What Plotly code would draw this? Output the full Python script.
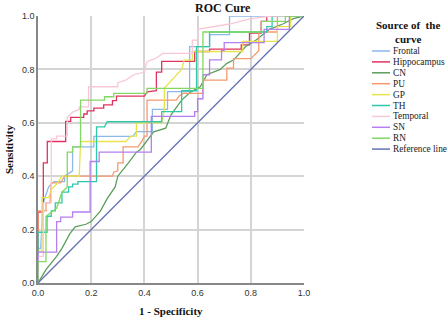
import plotly.graph_objects as go

# ROC curve points (1 - specificity, sensitivity)
frontal_x = [0, 0, 0.01, 0.02, 0.04, 0.06, 0.10, 0.10, 0.13, 0.13, 0.21, 0.21, 0.357, 0.37, 0.43, 0.43, 0.487, 0.487, 0.57, 0.57, 0.645, 0.645, 0.72, 0.72, 1]
frontal_y = [0, 0.13, 0.13, 0.30, 0.36, 0.38, 0.38, 0.40, 0.42, 0.51, 0.51, 0.549, 0.549, 0.567, 0.567, 0.65, 0.65, 0.717, 0.717, 0.885, 0.885, 0.93, 0.93, 1.0, 1]

hippo_x = [0, 0, 0.02, 0.02, 0.035, 0.035, 0.104, 0.104, 0.123, 0.123, 0.172, 0.172, 0.185, 0.185, 0.21, 0.21, 0.247, 0.247, 0.28, 0.28, 0.295, 0.295, 0.40, 0.41, 0.445, 0.445, 0.465, 0.465, 0.589, 0.589, 0.645, 0.645, 0.764, 0.764, 0.795, 0.795, 0.839, 0.839, 0.86, 0.86, 1]
hippo_y = [0, 0.266, 0.266, 0.45, 0.45, 0.53, 0.53, 0.605, 0.605, 0.62, 0.62, 0.633, 0.633, 0.645, 0.645, 0.655, 0.655, 0.667, 0.667, 0.683, 0.683, 0.70, 0.70, 0.716, 0.72, 0.79, 0.79, 0.83, 0.83, 0.867, 0.867, 0.876, 0.876, 0.892, 0.892, 0.936, 0.936, 0.98, 0.98, 1.0, 1]

cn_x = [0, 0.03, 0.07, 0.09, 0.12, 0.14, 0.18, 0.2, 0.235, 0.26, 0.29, 0.30, 0.34, 0.37, 0.385, 0.41, 0.435, 0.48, 0.50, 0.54, 0.575, 0.61, 0.635, 0.685, 0.71, 0.735, 0.78, 0.82, 0.87, 0.92, 0.96, 1]
cn_y = [0, 0.05, 0.10, 0.13, 0.185, 0.21, 0.22, 0.23, 0.27, 0.316, 0.36, 0.40, 0.45, 0.49, 0.50, 0.535, 0.566, 0.58, 0.63, 0.685, 0.716, 0.735, 0.78, 0.80, 0.8225, 0.835, 0.885, 0.91, 0.95, 0.97, 0.99, 1]

pu_x = [0, 0, 0.03, 0.03, 0.045, 0.05, 0.085, 0.10, 0.28, 0.285, 0.30, 0.30, 0.32, 0.32, 0.376, 0.39, 0.40, 0.41, 0.41, 0.52, 0.53, 0.545, 0.62, 0.62, 0.71, 0.71, 0.735, 0.735, 0.80, 0.83, 0.83, 0.90, 0.90, 1]
pu_y = [0, 0.27, 0.27, 0.30, 0.30, 0.375, 0.375, 0.40, 0.40, 0.416, 0.42, 0.45, 0.45, 0.51, 0.51, 0.53, 0.55, 0.55, 0.685, 0.685, 0.70, 0.71, 0.71, 0.76, 0.76, 0.805, 0.805, 0.84, 0.84, 0.87, 0.94, 0.94, 1.0, 1]

gp_x = [0, 0, 0.015, 0.015, 0.04, 0.05, 0.07, 0.09, 0.155, 0.16, 0.33, 0.35, 0.37, 0.37, 0.465, 0.475, 0.475, 0.54, 0.55, 0.58, 0.58, 0.77, 0.77, 0.90, 0.90, 0.95, 0.95, 1]
gp_y = [0, 0.12, 0.12, 0.32, 0.32, 0.35, 0.37, 0.40, 0.40, 0.53, 0.53, 0.55, 0.55, 0.60, 0.60, 0.65, 0.73, 0.80, 0.835, 0.835, 0.867, 0.867, 0.905, 0.905, 0.96, 0.96, 1.0, 1]

th_x = [0, 0, 0.034, 0.034, 0.05, 0.05, 0.065, 0.065, 0.09, 0.09, 0.115, 0.115, 0.13, 0.13, 0.15, 0.15, 0.22, 0.22, 0.25, 0.26, 0.465, 0.465, 0.54, 0.54, 0.596, 0.596, 0.645, 0.645, 0.86, 0.86, 0.88, 0.88, 1]
th_y = [0, 0.19, 0.19, 0.25, 0.25, 0.27, 0.27, 0.30, 0.30, 0.34, 0.34, 0.36, 0.36, 0.37, 0.37, 0.38, 0.38, 0.585, 0.585, 0.604, 0.604, 0.642, 0.642, 0.72, 0.72, 0.885, 0.885, 0.94, 0.94, 0.96, 0.96, 1.0, 1]

temporal_x = [0, 0, 0.02, 0.02, 0.05, 0.05, 0.07, 0.07, 0.11, 0.11, 0.13, 0.155, 0.155, 0.19, 0.19, 0.30, 0.30, 0.33, 0.36, 0.40, 0.41, 0.44, 0.47, 0.58, 0.58, 0.60, 0.60, 0.72, 0.80, 0.88, 1]
temporal_y = [0, 0.10, 0.10, 0.30, 0.30, 0.54, 0.54, 0.55, 0.55, 0.62, 0.64, 0.65, 0.66, 0.66, 0.735, 0.735, 0.75, 0.76, 0.78, 0.79, 0.83, 0.84, 0.86, 0.86, 0.91, 0.91, 0.95, 0.97, 0.99, 1.0, 1]

sn_x = [0, 0, 0.07, 0.07, 0.085, 0.085, 0.13, 0.13, 0.196, 0.196, 0.23, 0.23, 0.426, 0.426, 0.589, 0.589, 0.60, 0.60, 0.62, 0.62, 0.645, 0.645, 0.69, 0.69, 0.70, 0.70, 0.85, 0.85, 0.945, 0.945, 1]
sn_y = [0, 0.116, 0.116, 0.23, 0.23, 0.247, 0.247, 0.266, 0.266, 0.455, 0.455, 0.49, 0.49, 0.624, 0.624, 0.642, 0.642, 0.69, 0.69, 0.78, 0.78, 0.836, 0.836, 0.87, 0.87, 0.90, 0.90, 0.95, 0.95, 1.0, 1]

rn_x = [0, 0, 0.03, 0.03, 0.07, 0.09, 0.11, 0.11, 0.13, 0.13, 0.16, 0.16, 0.25, 0.25, 0.285, 0.285, 0.41, 0.41, 0.62, 0.62, 0.84, 0.84, 0.93, 0.93, 1]
rn_y = [0, 0.08, 0.08, 0.25, 0.28, 0.34, 0.36, 0.49, 0.49, 0.51, 0.51, 0.685, 0.685, 0.6975, 0.6975, 0.71, 0.71, 0.729, 0.729, 0.94, 0.94, 0.98, 0.98, 1.0, 1]

ref_x = [0, 1]
ref_y = [0, 1]

tick_vals = [0, 0.2, 0.4, 0.6, 0.8, 1.0]
legend_title = "Source of  the<br>curve"

series = [
    ("Frontal", frontal_x, frontal_y, "#8db8ea"),
    ("Hippocampus", hippo_x, hippo_y, "#e0335f"),
    ("CN", cn_x, cn_y, "#5b9e5b"),
    ("PU", pu_x, pu_y, "#f5996e"),
    ("GP", gp_x, gp_y, "#e6e34c"),
    ("TH", th_x, th_y, "#2fc9aa"),
    ("Temporal", temporal_x, temporal_y, "#f8c8d6"),
    ("SN", sn_x, sn_y, "#b67ef0"),
    ("RN", rn_x, rn_y, "#82d862"),
    ("Reference line", ref_x, ref_y, "#6472b2"),
]

W, H = 447, 321
# plot area in page pixels: x 38..304, y 16..283
PX0, PX1, PY0, PY1 = 38, 304, 16, 283
L, T = PX0, PY0
R, B = W - PX1, H - PY1
PW, PH = PX1 - PX0, PY1 - PY0


def px_to_paper(px, py):
    return (px - PX0) / PW, (PY1 - py) / PH


fig = go.Figure()
for name, xs, ys, col in series:
    fig.add_trace(go.Scatter(x=xs, y=ys, mode="lines", name=name, showlegend=False,
                             line=dict(color=col, width=1.3)))

serif = "Liberation Serif, Times New Roman, serif"
sans = "Arial, Liberation Sans, sans-serif"

annotations = []
shapes = []
# Legend (drawn manually to match the compact spacing of the reference)
tx, ty = px_to_paper(408, 32)
annotations.append(dict(text="<b>" + legend_title + "</b>", x=tx, y=ty, xref="paper", yref="paper",
                        xanchor="center", yanchor="middle", showarrow=False, align="center",
                        font=dict(family=serif, size=11, color="#111")))
for i, (name, xs, ys, col) in enumerate(series):
    py = 51 + i * 10.9
    x0, yy = px_to_paper(372, py)
    x1, _ = px_to_paper(390, py)
    shapes.append(dict(type="line", xref="paper", yref="paper", x0=x0, x1=x1, y0=yy, y1=yy,
                       line=dict(color=col, width=1.5)))
    xt, _ = px_to_paper(391, py)
    annotations.append(dict(text=name, x=xt, y=yy, xref="paper", yref="paper",
                            xanchor="left", yanchor="middle", showarrow=False,
                            font=dict(family=serif, size=9.3, color="#222")))

# Axis titles
ax, ay = px_to_paper(171, 311)
annotations.append(dict(text="<b>1 - Specificity</b>", x=ax, y=ay, xref="paper", yref="paper",
                        xanchor="center", yanchor="middle", showarrow=False,
                        font=dict(family=serif, size=11, color="#111")))
bx, by = px_to_paper(9, 150)
annotations.append(dict(text="<b>Sensitivity</b>", x=bx, y=by, xref="paper", yref="paper",
                        xanchor="center", yanchor="middle", showarrow=False, textangle=-90,
                        font=dict(family=serif, size=11, color="#111")))
# Title centred over the whole picture
cx, cy = px_to_paper(223, 8)
annotations.append(dict(text="<b>ROC Cure</b>", x=cx, y=cy, xref="paper", yref="paper",
                        xanchor="center", yanchor="middle", showarrow=False,
                        font=dict(family=serif, size=12, color="#111")))

fig.update_layout(
    width=W, height=H,
    margin=dict(l=L, r=R, t=T, b=B, autoexpand=False),
    paper_bgcolor="white", plot_bgcolor="white",
    showlegend=False,
    annotations=annotations,
    shapes=shapes,
)
fig.update_xaxes(range=[0, 1], tickvals=tick_vals, tickformat=".1f", automargin=False,
                 showgrid=True, gridcolor="#d4d4d4", gridwidth=1.5,
                 showline=True, linecolor="#888", linewidth=1.5, zeroline=False,
                 ticks="", tickfont=dict(family=sans, size=9, color="#333"))
fig.update_yaxes(range=[0, 1], tickvals=tick_vals, tickformat=".1f", automargin=False,
                 showgrid=True, gridcolor="#d4d4d4", gridwidth=1.5,
                 showline=True, linecolor="#888", linewidth=1.5, zeroline=False,
                 ticks="", tickfont=dict(family=sans, size=9, color="#333"))

fig.write_html("out.html", config={"displayModeBar": False},
               post_script="document.body.style.margin='0';document.body.style.overflow='hidden';")
